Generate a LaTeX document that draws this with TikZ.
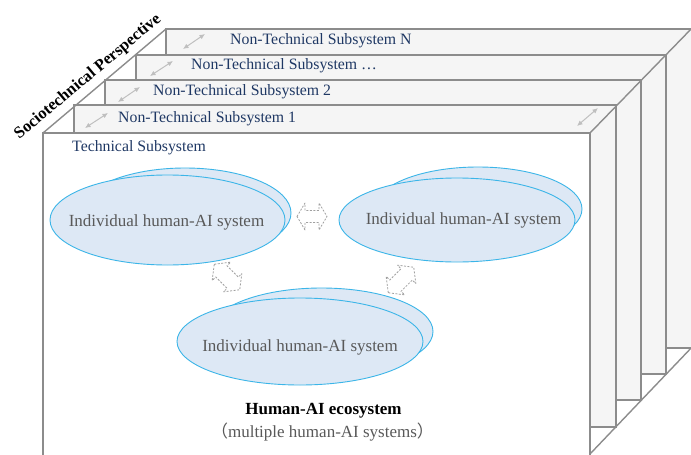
\documentclass[tikz,border=0pt]{standalone}
\usepackage{fontspec}
\setmainfont{Liberation Serif}
\newfontfamily\cjkfont{Noto Sans CJK SC}
\usetikzlibrary{arrows.meta,shapes.geometric}
\definecolor{slabline}{HTML}{8C8C8C}
\definecolor{slabfill}{HTML}{F5F5F5}
\definecolor{navy}{HTML}{1F3864}
\definecolor{elfill}{HTML}{DDE8F5}
\definecolor{eldraw}{HTML}{3BB5E8}
\definecolor{txtgray}{HTML}{595959}
\definecolor{arrgray}{HTML}{BFBFBF}
\definecolor{dashgray}{HTML}{A0A0A0}
\begin{document}
\begin{tikzpicture}[x=1pt,y=-1pt,
  slab/.style={draw=slabline, fill=slabfill, line width=1.4pt},
  edgeline/.style={draw=slabline, line width=1.4pt},
  layerlabel/.style={anchor=west, inner sep=0pt, text=navy, font=\fontsize{15.8}{18}\selectfont},
  sysellipse/.style={ellipse, draw=eldraw, fill=elfill, line width=0.9pt, inner sep=0pt},
  systext/.style={inner sep=0pt, text=txtgray, font=\fontsize{17}{20}\selectfont},
  striparrow/.style={draw=arrgray, line width=1pt, {Latex[length=5.5pt,width=5pt]}-{Latex[length=5.5pt,width=5pt]}},
  dasharrow/.style={draw=dashgray, fill=white, line width=0.8pt, dash pattern=on 2pt off 1.5pt, line join=round}
]
\useasboundingbox (0,0) rectangle (691,455);
\clip (0,0) rectangle (691,455);
% slabs, back to front
\draw[slab] (166,29) rectangle (694,348);
\draw[slab] (136,55) rectangle (666,374);
\draw[slab] (105,80) rectangle (641,400);
\draw[slab] (74,105) rectangle (616,427);
\draw[slab, fill=white] (43,133) rectangle (590,458);
% diagonal edges
\draw[edgeline] (43,133) -- (166,29);
\draw[edgeline] (590,133) -- (694,26);
\draw[edgeline] (590,454) -- (694,345);
% strip arrows
\draw[striparrow] (85,128) -- (108,113);
\draw[striparrow] (118,102) -- (140,87);
\draw[striparrow] (150,76) -- (173,61);
\draw[striparrow] (183,49) -- (205,34);
\draw[striparrow] (577,126) -- (598,108);
% layer labels
\node[layerlabel] (ln) at (230,41) {Non-Technical Subsystem N};
\node[layerlabel] (l3) at (191,66) {Non-Technical Subsystem …};
\node[layerlabel] (l2) at (153,92) {Non-Technical Subsystem 2};
\node[layerlabel] (l1) at (118,119) {Non-Technical Subsystem 1};
\node[layerlabel] (tech) at (72,148) {Technical Subsystem};
% perspective label
\node[rotate=40, inner sep=0pt, font=\bfseries\fontsize{16.5}{18}\selectfont] (persp) at (88,77) {Sociotechnical Perspective};
% ellipses
\node[sysellipse, minimum width=212pt, minimum height=90pt] (aback) at (185,213) {};
\node[sysellipse, minimum width=235pt, minimum height=90pt] (afront) at (167.5,220) {};
\node[systext] (atext) at (166.5,222) {Individual human-AI system};
\node[sysellipse, minimum width=208pt, minimum height=84pt] (bback) at (478,209) {};
\node[sysellipse, minimum width=236pt, minimum height=84pt] (bfront) at (457,220) {};
\node[systext] (btext) at (463.5,220) {Individual human-AI system};
\node[sysellipse, minimum width=223pt, minimum height=87pt] (cback) at (321.5,331.5) {};
\node[sysellipse, minimum width=246pt, minimum height=87pt] (cfront) at (300,341.5) {};
\node[systext] (ctext) at (300,347) {Individual human-AI system};
% dashed double arrows
\draw[dasharrow, shift={(312,216.5)}] (-15,0) -- (-7,-13.5) -- (-7,-6) -- (7,-6) -- (7,-13.5) -- (15,0) -- (7,13.5) -- (7,6) -- (-7,6) -- (-7,13.5) -- cycle;
\draw[dasharrow, shift={(227,277)}, rotate=-45] (-18,0) -- (-8,-13) -- (-8,-8) -- (8,-8) -- (8,-13) -- (18,0) -- (8,13) -- (8,8) -- (-8,8) -- (-8,13) -- cycle;
\draw[dasharrow, shift={(401,280)}, rotate=45] (-18,0) -- (-8,-13) -- (-8,-8) -- (8,-8) -- (8,-13) -- (18,0) -- (8,13) -- (8,8) -- (-8,8) -- (-8,13) -- cycle;
% caption
\node[inner sep=0pt, font=\bfseries\fontsize{17}{20}\selectfont] (eco) at (323.5,411) {Human-AI ecosystem};
\node[inner sep=0pt, text=txtgray, font=\fontsize{17}{20}\selectfont] (multi) at (322.5,432) {{\cjkfont （}multiple human-AI systems{\cjkfont ）}};
\end{tikzpicture}
\end{document}
